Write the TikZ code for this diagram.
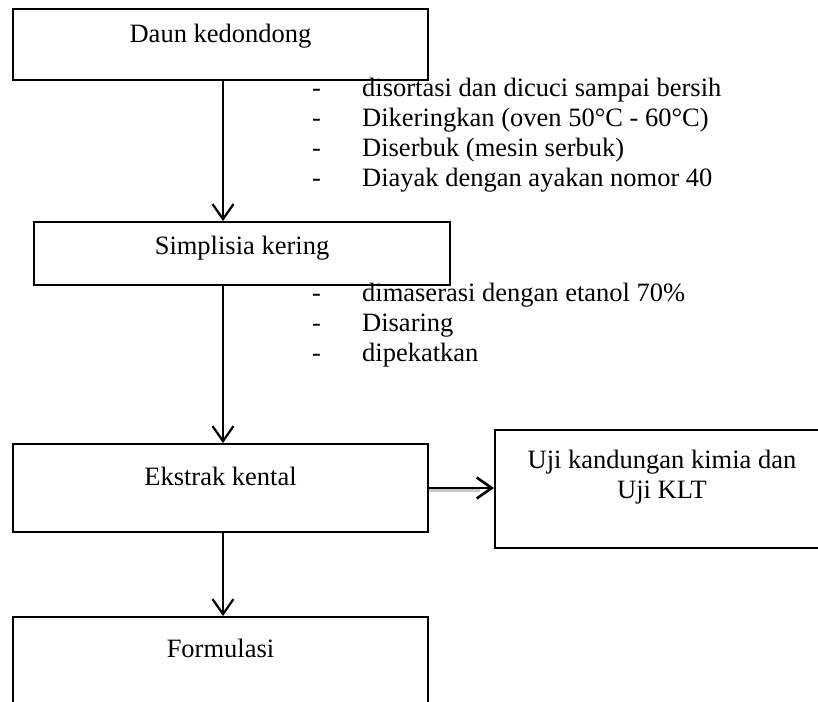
\documentclass[tikz,border=0pt]{standalone}
\usepackage{fontspec}
\setmainfont{Liberation Serif}
\usetikzlibrary{arrows.meta}
\tikzset{
  stage/.style={draw, line width=2pt, inner sep=0pt, font=\fontsize{26.5}{30}\selectfont},
  flow/.style={line width=2.2pt, -{Straight Barb[length=15pt,width=21pt]}},
  steptext/.style={anchor=base west, inner sep=0pt, font=\fontsize{26.5}{30}\selectfont},
}

\begin{document}
\begin{tikzpicture}[x=1pt, y=-1pt]
  \useasboundingbox (0,0) rectangle (818,701);
  \clip (0,0) rectangle (818,701);
  % stages
  \node[stage, minimum width=415pt, text height=34pt, text depth=37pt, anchor=base]
    (daun) at (220.5,43) {Daun kedondong};
  \node[stage, minimum width=416pt, text height=32pt, text depth=31pt, anchor=base]
    (simplisia) at (242,254) {Simplisia kering};
  \node[stage, minimum width=415pt, text height=41pt, text depth=47pt, anchor=base]
    (ekstrak) at (220.5,485) {Ekstrak kental};
  \node[stage, minimum width=334pt, text height=38pt, text depth=80pt, anchor=base]
    (uji) at (662,468) {\begin{tabular}[t]{@{}c@{}}Uji kandungan kimia dan\\Uji KLT\end{tabular}};
  \node[stage, minimum width=415pt, text height=40pt, text depth=48pt, anchor=base]
    (formulasi) at (220.5,657) {Formulasi};
  % treatment steps
  \foreach \txt [count=\i] in {disortasi dan dicuci sampai bersih,
      Dikeringkan (oven 50°C - 60°C), Diserbuk (mesin serbuk),
      Diayak dengan ayakan nomor 40}
    \node[steptext] (prep\i) at (312, 66+30*\i) {\makebox[50pt][l]{-}\txt};
  \foreach \txt [count=\i] in {dimaserasi dengan etanol 70\%, Disaring, dipekatkan}
    \node[steptext] (ekstraksi\i) at (312, 271+30*\i) {\makebox[50pt][l]{-}\txt};
  % arrows
  \draw[flow] ([xshift=2.5pt]daun.south) -- ([xshift=2.5pt]daun.south |- simplisia.north);
  \draw[flow] ([xshift=2.5pt]ekstrak.north |- simplisia.south) -- ([xshift=2.5pt]ekstrak.north);
  \draw[flow] ([xshift=2.5pt]ekstrak.south) -- ([xshift=2.5pt]formulasi.north);
  \draw[gray!45, line width=2.5pt] ([yshift=-2.5pt]ekstrak.east) -- ([yshift=-2.5pt,xshift=-14pt]ekstrak.east -| uji.west);
  \draw[flow, line width=2.6pt] (ekstrak.east) -- (ekstrak.east -| uji.west);
\end{tikzpicture}
\end{document}
